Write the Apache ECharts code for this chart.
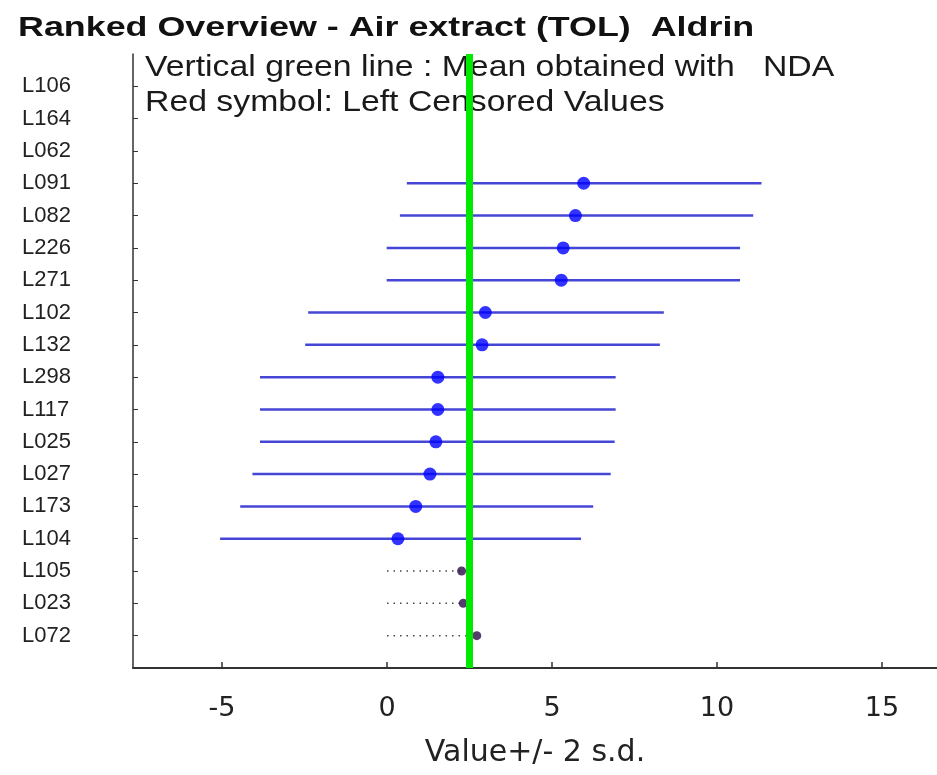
<!DOCTYPE html>
<html>
<head>
<meta charset="utf-8">
<script src="https://cdn.jsdelivr.net/npm/echarts@6/dist/echarts.min.js"></script>
<style>
html,body{margin:0;padding:0;background:#fff;}
#chart{width:937px;height:775px;}
</style>
</head>
<body>
<div id="chart"></div>
<script>
// Labs, top to bottom
const labs = ['L106','L164','L062','L091','L082','L226','L271','L102','L132','L298','L117','L025','L027','L173','L104','L105','L023','L072'];
// Reported means (null = no value)
const means = [null,null,null,5.96,5.71,5.34,5.28,2.98,2.88,1.54,1.54,1.48,1.30,0.87,0.33,null,null,null];
// Mean - 2 s.d.
const lows  = [null,null,null,0.60,0.39,-0.01,-0.01,-2.39,-2.48,-3.85,-3.85,-3.85,-4.08,-4.45,-5.06,null,null,null];
// Mean + 2 s.d.
const highs = [null,null,null,11.35,11.10,10.70,10.70,8.39,8.27,6.93,6.93,6.90,6.78,6.25,5.88,null,null,null];
// Left censored values ("< limit")
const censored    = [null,null,null,null,null,null,null,null,null,null,null,null,null,null,null,2.26,2.31,2.72];
const censoredLow = [null,null,null,null,null,null,null,null,null,null,null,null,null,null,null,0,0,0];
// Consensus mean (green line)
const meanNDA = 2.48;
const xTicks = [-5,0,5,10,15];
const titleText = 'Ranked Overview - Air extract (TOL)  Aldrin';
const legendLines = ['Vertical green line : Mean obtained with   NDA', 'Red symbol: Left Censored Values'];

const n = labs.length;
const rowY = i => n - i;            // top row -> 18, bottom row -> 1
const yTicks = labs.map((_, i) => rowY(i));

const barData = [], dotData = [], censLineData = [], censDotData = [];
labs.forEach((lab, i) => {
  if (means[i] != null) {
    barData.push([lows[i], highs[i], rowY(i)]);
    dotData.push([means[i], rowY(i)]);
  }
  if (censored[i] != null) {
    censLineData.push([censoredLow[i], censored[i], rowY(i)]);
    censDotData.push([censored[i], rowY(i)]);
  }
});

function hLine(color, width, dash) {
  return function (params, api) {
    const a = api.coord([api.value(0), api.value(2)]);
    const b = api.coord([api.value(1), api.value(2)]);
    return {
      type: 'line',
      shape: {x1: a[0], y1: a[1], x2: b[0], y2: b[1]},
      style: {stroke: color, lineWidth: width, lineDash: dash || null}
    };
  };
}

const chart = echarts.init(document.getElementById('chart'), null, {renderer: 'canvas'});
const option = {
  animation: false,
  backgroundColor: '#fff',
  textStyle: {fontFamily: '"Liberation Sans", Arial, sans-serif'},
  grid: {left: 133, right: 0, top: 54, bottom: 107},
  xAxis: {
    type: 'value', min: -7.7, max: 16.67,
    axisLine: {show: true, onZero: false, lineStyle: {color: '#333', width: 2}},
    axisTick: {show: true, inside: true, length: 6, customValues: xTicks, lineStyle: {color: '#333', width: 1.5}},
    axisLabel: {customValues: xTicks, fontSize: 27, color: '#222', margin: 27, fontFamily: '"DejaVu Sans", sans-serif'},
    splitLine: {show: false},
    name: 'Value+/- 2 s.d.', nameLocation: 'middle', nameGap: 70,
    nameTextStyle: {fontSize: 30, color: '#222', fontFamily: '"DejaVu Sans", sans-serif'}
  },
  yAxis: {
    type: 'value', min: 0, max: 19,
    axisLine: {show: true, onZero: false, lineStyle: {color: '#333', width: 1.5}},
    axisTick: {show: true, inside: true, length: 5, customValues: yTicks, lineStyle: {color: '#333', width: 1}},
    axisLabel: {customValues: yTicks, formatter: v => labs[n - v], align: 'left', margin: 111, fontSize: 22, color: '#222'},
    splitLine: {show: false}
  },
  graphic: [
    {type: 'text', x: 18, y: 28, scaleX: 1.28, style: {text: titleText, font: 'bold 28px "Liberation Sans", Arial, sans-serif', fill: '#111', textVerticalAlign: 'middle'}},
    {type: 'text', x: 145, y: 68, scaleX: 1.165, style: {text: legendLines[0], font: '29px "Liberation Sans", Arial, sans-serif', fill: '#1a1a1a', textVerticalAlign: 'middle'}},
    {type: 'text', x: 145, y: 103, scaleX: 1.165, style: {text: legendLines[1], font: '29px "Liberation Sans", Arial, sans-serif', fill: '#1a1a1a', textVerticalAlign: 'middle'}}
  ],
  series: [
    {type: 'custom', name: 'range', data: barData, encode: {x: [0, 1], y: 2}, renderItem: hLine('#4646d6', 2.5), z: 2, silent: true},
    {type: 'custom', name: 'censored range', data: censLineData, encode: {x: [0, 1], y: 2}, renderItem: hLine('#444', 1.5, [1.5, 5]), z: 2, silent: true},
    {type: 'line', name: 'mean', data: [], z: 3, silent: true,
      markLine: {silent: true, symbol: 'none', label: {show: false}, animation: false,
        lineStyle: {color: '#00ea00', width: 7, type: 'solid'}, data: [{xAxis: meanNDA}]}},
    {type: 'scatter', name: 'value', data: dotData, symbol: 'circle', symbolSize: 13, itemStyle: {color: '#0000ff'}, z: 4, silent: true},
    {type: 'scatter', name: 'censored', data: censDotData, symbol: 'circle', symbolSize: 9, itemStyle: {color: '#2a0d4a'}, z: 4, silent: true}
  ]
};
chart.setOption(option);
</script>
</body>
</html>
